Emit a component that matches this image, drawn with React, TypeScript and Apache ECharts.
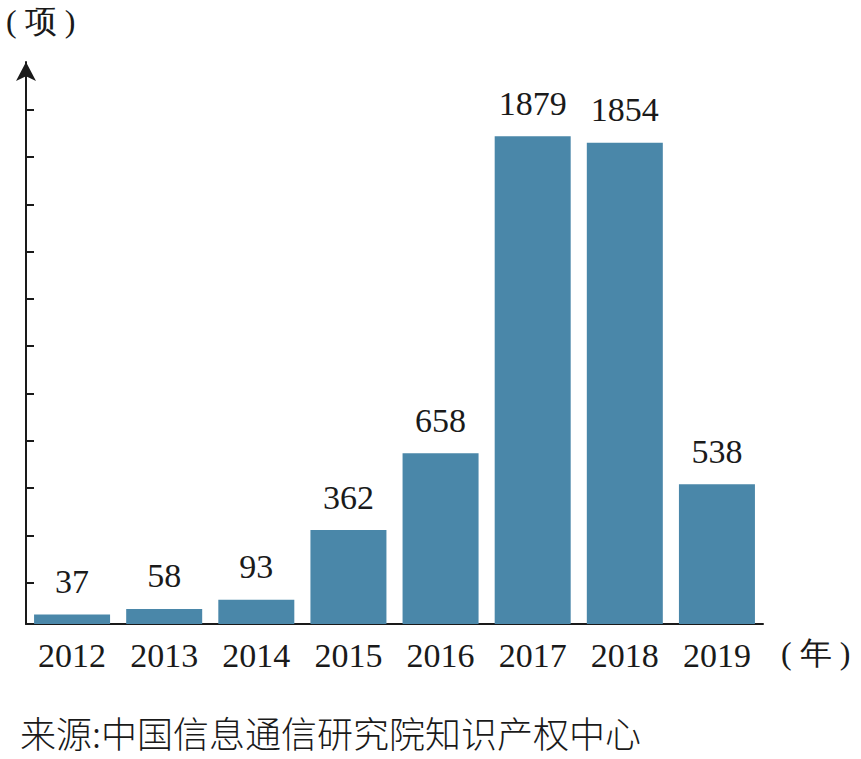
import React, { useEffect, useRef } from "react";
import * as echarts from "echarts";

const years = ["2012", "2013", "2014", "2015", "2016", "2017", "2018", "2019"];
const counts = [37, 58, 93, 362, 658, 1879, 1854, 538];
const yTickValues = [158, 340, 523, 705, 888, 1070, 1252, 1435, 1617, 1800, 1982];
const yUnit = "( 项 )";
const xUnit = "( 年 )";
const sourceText = "来源:中国信息通信研究院知识产权中心";

const SERIF = "Liberation Serif";
const CJK = "Noto Sans CJK SC";

export default function App() {
  const ref = useRef<HTMLDivElement>(null);
  useEffect(() => {
    if (!ref.current) return;
    const chart = echarts.init(ref.current, null, { renderer: "svg" });
    chart.setOption({
      animation: false,
      backgroundColor: "#ffffff",
      grid: { left: 26, right: 98, top: 62, bottom: 135, containLabel: false },
      xAxis: {
        type: "category",
        data: years,
        axisLine: { show: true, lineStyle: { color: "#1a1a1a", width: 2 } },
        axisTick: { show: false },
        axisLabel: {
          interval: 0,
          color: "#1a1a1a",
          fontFamily: SERIF,
          fontSize: 34,
          margin: 14,
        },
        splitLine: { show: false },
      },
      yAxis: {
        type: "value",
        min: 0,
        max: 2165,
        axisLine: {
          show: true,
          symbol: ["none", "arrow"],
          symbolSize: [15, 19],
          lineStyle: { color: "#1a1a1a", width: 2 },
        },
        axisTick: {
          show: true,
          inside: true,
          length: 8,
          customValues: yTickValues,
          lineStyle: { color: "#1a1a1a", width: 2 },
        },
        axisLabel: { show: false },
        splitLine: { show: false },
      },
      series: [
        {
          type: "bar",
          data: counts,
          barWidth: 76,
          itemStyle: { color: "#4a87a9" },
          label: {
            show: true,
            position: "top",
            distance: 16,
            color: "#1a1a1a",
            fontFamily: SERIF,
            fontSize: 34,
          },
        },
      ],
      graphic: [
        {
          type: "text",
          left: 6,
          top: 5,
          style: { text: yUnit, fontFamily: SERIF, fontSize: 32, fill: "#1a1a1a" },
        },
        {
          type: "text",
          left: 781,
          top: 637,
          style: { text: xUnit, fontFamily: SERIF, fontSize: 32, fill: "#1a1a1a" },
        },
        {
          type: "text",
          left: 20,
          top: 714,
          style: { text: sourceText, fontFamily: CJK, fontSize: 36, fontWeight: 300, fill: "#1a1a1a" },
        },
      ],
    });
    return () => chart.dispose();
  }, []);
  return (
    <div
      ref={ref}
      style={{ position: "fixed", left: 0, top: 0, width: 861, height: 759, background: "#fff" }}
    />
  );
}
